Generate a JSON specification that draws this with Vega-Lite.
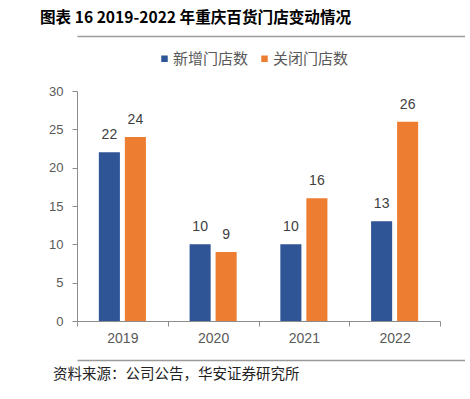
{
  "$schema": "https://vega.github.io/schema/vega-lite/v6.json",
  "padding": {"top": 11, "left": 0, "right": 0, "bottom": 0},
  "background": "white",
  "spacing": 13,
  "resolve": {"legend": {"color": "independent"}},
  "config": {"font": "Liberation Sans"},
  "datasets": {
    "stores": [
      {"year": "2019", "series": "新增门店数", "count": 22},
      {"year": "2019", "series": "关闭门店数", "count": 24},
      {"year": "2020", "series": "新增门店数", "count": 10},
      {"year": "2020", "series": "关闭门店数", "count": 9},
      {"year": "2021", "series": "新增门店数", "count": 10},
      {"year": "2021", "series": "关闭门店数", "count": 16},
      {"year": "2022", "series": "新增门店数", "count": 13},
      {"year": "2022", "series": "关闭门店数", "count": 26}
    ]
  },
  "vconcat": [
    {
      "width": 388,
      "height": 2,
      "view": {"stroke": null},
      "title": {
        "text": "图表 16 2019-2022 年重庆百货门店变动情况",
        "anchor": "start",
        "dx": -37,
        "offset": 9,
        "font": "Noto Sans CJK SC",
        "fontSize": 15.6,
        "fontWeight": "bold",
        "color": "#000000"
      },
      "data": {"values": [{"line": 0}]},
      "mark": {"type": "rule", "opacity": 0},
      "encoding": {
        "x": {
          "field": "line",
          "type": "quantitative",
          "scale": {"domain": [0, 1]},
          "axis": {"orient": "top", "domain": true, "domainColor": "#9a9a9a", "domainWidth": 1.5, "labels": false, "ticks": false, "grid": false, "title": null}
        }
      }
    },
    {
      "width": 363,
      "height": 230,
      "view": {"stroke": null},
      "data": {"name": "stores"},
      "encoding": {
        "x": {
          "field": "year",
          "type": "nominal",
          "scale": {"paddingInner": 0, "paddingOuter": 0},
          "axis": {
            "title": null,
            "labelAngle": 0,
            "tickBand": "extent",
            "domainColor": "#8c8c8c",
            "tickColor": "#8c8c8c",
            "tickSize": 5,
            "labelFontSize": 14,
            "labelColor": "#595959",
            "labelPadding": 5,
            "minExtent": 26,
            "maxExtent": 26
          }
        },
        "xOffset": {
          "field": "series",
          "type": "nominal",
          "sort": ["新增门店数", "关闭门店数"],
          "scale": {"paddingInner": 0.19, "paddingOuter": 0.84}
        },
        "y": {
          "field": "count",
          "type": "quantitative",
          "scale": {"domain": [0, 30]},
          "axis": {
            "title": null,
            "values": [0, 5, 10, 15, 20, 25, 30],
            "grid": false,
            "domainColor": "#8c8c8c",
            "tickColor": "#8c8c8c",
            "tickSize": 5,
            "labelFontSize": 13,
            "labelColor": "#595959",
            "labelPadding": 9,
            "minExtent": 77,
            "maxExtent": 77
          }
        },
        "color": {
          "field": "series",
          "type": "nominal",
          "scale": {"domain": ["新增门店数", "关闭门店数"], "range": ["#2F5597", "#ED7D31"]},
          "legend": {
            "orient": "none",
            "legendX": 80,
            "legendY": -40,
            "direction": "horizontal",
            "title": null,
            "symbolType": "square",
            "symbolSize": 42,
            "symbolStrokeWidth": 0,
            "labelFont": "Noto Sans CJK SC",
            "labelFontSize": 15,
            "labelColor": "#595959",
            "labelOffset": 1,
            "columnPadding": 8
          }
        }
      },
      "layer": [
        {"mark": {"type": "bar"}},
        {
          "mark": {"type": "text", "baseline": "bottom", "dy": -10, "fontSize": 14, "color": "#404040"},
          "encoding": {
            "text": {"field": "count", "type": "quantitative"},
            "color": {"value": "#404040"}
          }
        }
      ]
    },
    {
      "width": 388,
      "height": 2,
      "view": {"stroke": null},
      "title": {
        "text": "资料来源：公司公告，华安证券研究所",
        "orient": "bottom",
        "anchor": "start",
        "dx": -24,
        "offset": 6,
        "font": "Noto Sans CJK SC",
        "fontSize": 14.5,
        "fontWeight": "normal",
        "color": "#222222"
      },
      "data": {"values": [{"line": 1}]},
      "mark": {"type": "rule", "opacity": 0},
      "encoding": {
        "x": {
          "field": "line",
          "type": "quantitative",
          "scale": {"domain": [0, 1]},
          "axis": {"orient": "top", "domain": true, "domainColor": "#9a9a9a", "domainWidth": 1.5, "labels": false, "ticks": false, "grid": false, "title": null}
        }
      }
    }
  ]
}
